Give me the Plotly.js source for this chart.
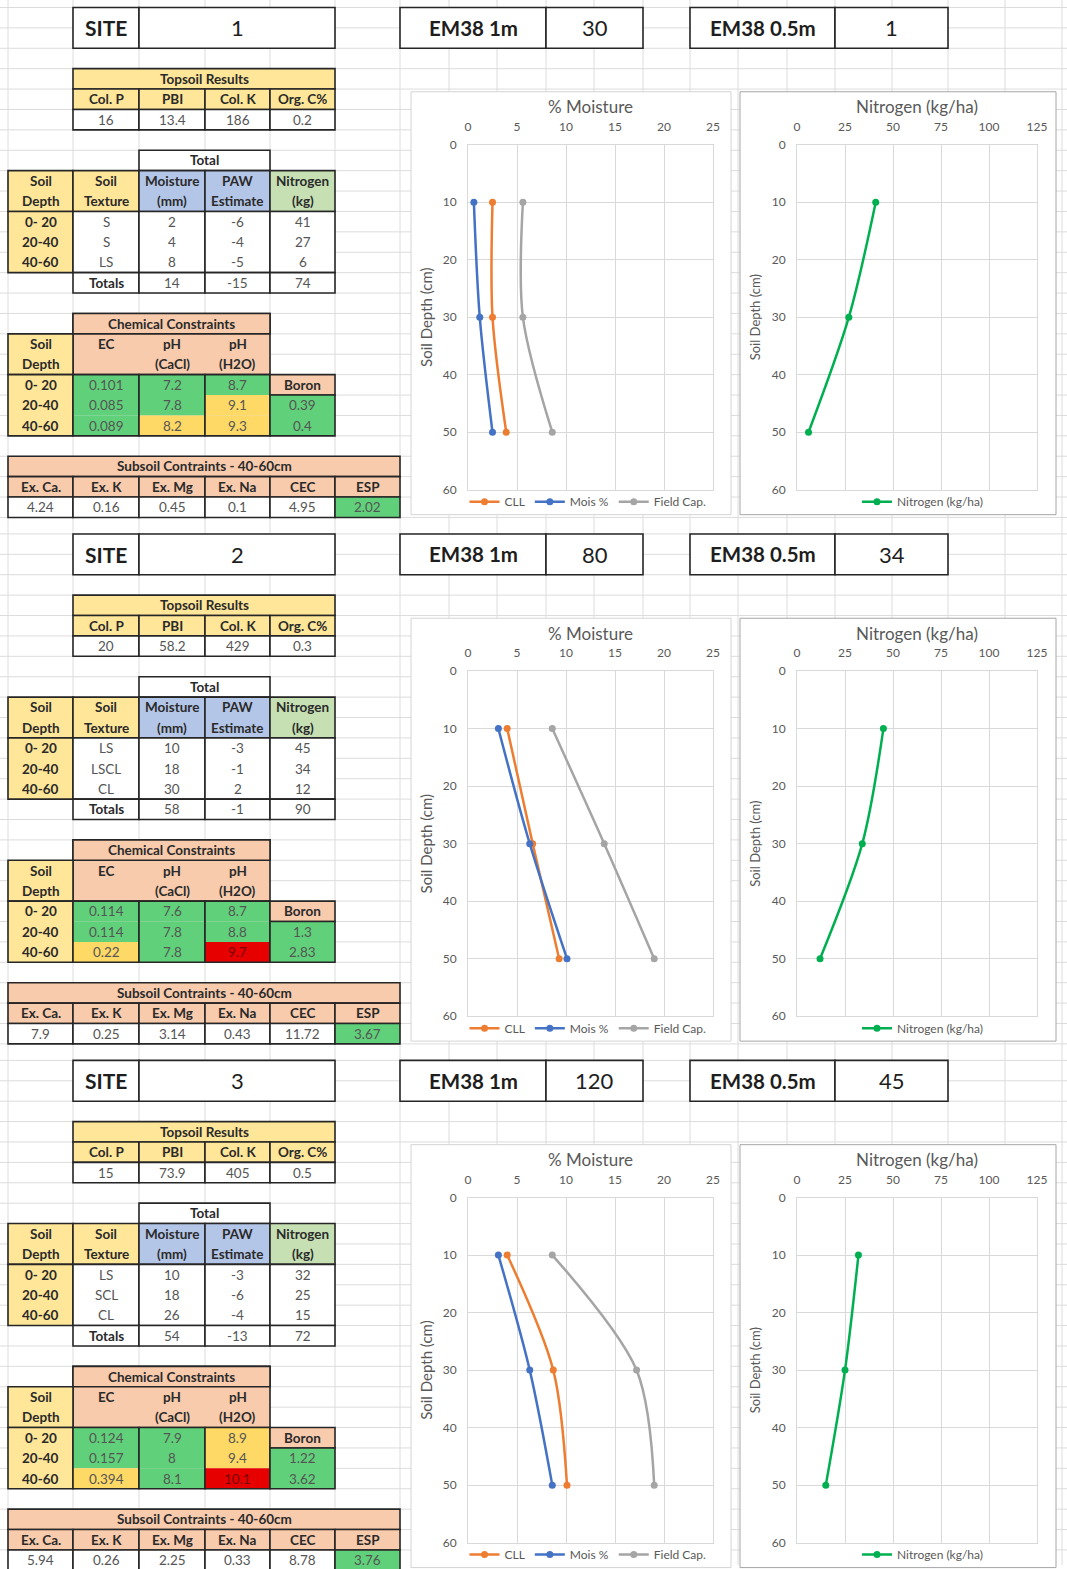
<!DOCTYPE html>
<html>
<head>
<meta charset="utf-8">
<script src="https://cdn.plot.ly/plotly-3.0.1.min.js"></script>
<style>
html,body{margin:0;padding:0;background:#ffffff;}
#chart{width:1067px;height:1569px;}
</style>
</head>
<body>
<div id="chart"></div>
<script>
// ---------------- DATA ----------------
const depths = [10, 30, 50];
const siteIds = ['1', '2', '3'];
const em38_1m = ['30', '80', '120'];
const em38_05m = ['1', '34', '45'];

// % moisture profiles (per site: values at 10, 30, 50 cm)
const cllPct = [[2.5, 2.5, 3.9], [4.0, 6.6, 9.3], [4.0, 8.7, 10.1]];
const moisPct = [[0.6, 1.2, 2.5], [3.1, 6.3, 10.1], [3.1, 6.3, 8.6]];
const fieldCapPct = [[5.6, 5.6, 8.6], [8.6, 13.9, 19.0], [8.6, 17.2, 19.0]];
// nitrogen profile (kg/ha)
const nitrogenKgHa = [[41, 27, 6], [45, 34, 12], [32, 25, 15]];

// tables
const topsoilHeaders = ['Col. P', 'PBI', 'Col. K', 'Org. C%'];
const topsoilValues = [['16', '13.4', '186', '0.2'], ['20', '58.2', '429', '0.3'], ['15', '73.9', '405', '0.5']];
const depthLabels = ['0- 20', '20-40', '40-60'];
const soilTexture = [['S', 'S', 'LS'], ['LS', 'LSCL', 'CL'], ['LS', 'SCL', 'CL']];
const moistureMm = [['2', '4', '8'], ['10', '18', '30'], ['10', '18', '26']];
const pawEstimate = [['-6', '-4', '-5'], ['-3', '-1', '2'], ['-3', '-6', '-4']];
const nitrogenKg = [['41', '27', '6'], ['45', '34', '12'], ['32', '25', '15']];
const totalsMoisture = ['14', '58', '54'];
const totalsPaw = ['-15', '-1', '-13'];
const totalsNitrogen = ['74', '90', '72'];
const ecValues = [['0.101', '0.085', '0.089'], ['0.114', '0.114', '0.22'], ['0.124', '0.157', '0.394']];
const ecStatus = [['g', 'g', 'g'], ['g', 'g', 'y'], ['g', 'g', 'y']];
const phCaCl = [['7.2', '7.8', '8.2'], ['7.6', '7.8', '7.8'], ['7.9', '8', '8.1']];
const phCaClStatus = [['g', 'g', 'y'], ['g', 'g', 'g'], ['g', 'g', 'g']];
const phH2O = [['8.7', '9.1', '9.3'], ['8.7', '8.8', '9.7'], ['8.9', '9.4', '10.1']];
const phH2OStatus = [['g', 'y', 'y'], ['g', 'g', 'r'], ['y', 'y', 'r']];
const boronValues = [['0.39', '0.4'], ['1.3', '2.83'], ['1.22', '3.62']];
const subsoilHeaders = ['Ex. Ca.', 'Ex. K', 'Ex. Mg', 'Ex. Na', 'CEC', 'ESP'];
const subsoilValues = [['4.24', '0.16', '0.45', '0.1', '4.95', '2.02'], ['7.9', '0.25', '3.14', '0.43', '11.72', '3.67'], ['5.94', '0.26', '2.25', '0.33', '8.78', '3.76']];

// ---------------- STYLE / LAYOUT ----------------
const FONT = 'Lato, "Open Sans", Arial, sans-serif';
const W = 1067, H = 1569;
const Y0 = 7.5, R = 20.45, OFF = 527.8;
const C = [8, 73, 139, 205, 270, 335, 400];
const RIGHT_COLS = [449, 497, 546, 594, 643, 690, 738, 787, 835, 892, 948, 1005, 1062];
const GRID = '#DCDCDC';
const B = '#262626', BW = 1.6;
const YELLOW = '#FFE699', BLUE = '#B4C6E7', LGREEN = '#C6E0B4', SALMON = '#F8CBAD';
const GOOD = '#60D17A', WARN = '#FFD966', BAD = '#E60000';
const WHITE = '#FFFFFF';
const DARK = '#1E1E1E', HEAD = '#2A2A2A', VAL = '#555555';
const STATUS_FILL = {g: GOOD, y: WARN, r: BAD};

const px = x => x / W;
const py = y => 1 - y / H;
const shapes = [];
const annotations = [];

function rect(x0, y0, x1, y1, fill, lc, lw) {
  shapes.push({type: 'rect', xref: 'paper', yref: 'paper', layer: 'below',
    x0: px(x0), x1: px(x1), y0: py(y1), y1: py(y0),
    fillcolor: fill || 'rgba(0,0,0,0)',
    line: {color: lc || 'rgba(0,0,0,0)', width: lw || 0}});
}
function hline(x0, x1, y, color, w) {
  shapes.push({type: 'line', xref: 'paper', yref: 'paper', layer: 'below',
    x0: px(x0), x1: px(x1), y0: py(y), y1: py(y), line: {color: color, width: w}});
}
function vline(x, y0, y1, color, w) {
  shapes.push({type: 'line', xref: 'paper', yref: 'paper', layer: 'below',
    x0: px(x), x1: px(x), y0: py(y0), y1: py(y1), line: {color: color, width: w}});
}
function txt(x, y, t, size, color, bold) {
  annotations.push({xref: 'paper', yref: 'paper', x: px(x), y: py(y), text: t,
    showarrow: false, xanchor: 'center', yanchor: 'middle',
    font: {family: FONT, size: size, color: color, weight: bold ? 'bold' : 'normal'}});
}

// spreadsheet grid
for (let s = 0; s < 3; s++) {
  for (let k = 0; k <= 25; k++) hline(0, W, Y0 + s * OFF + k * R, GRID, 1);
}
C.concat(RIGHT_COLS).forEach(x => vline(x, 0, H, GRID, 1));

const TS = 13.5;

function drawSite(s) {
  const off = s * OFF;
  const rt = k => Y0 + off + k * R;
  const mid = k => Y0 + off + (k + 0.5) * R;
  const cx = i => (C[i] + C[i + 1]) / 2;

  // chart frames
  rect(411, 92 + off, 731, 516 + off, WHITE, '#D4D4D4', 1);
  rect(740, 92 + off, 1056, 516 + off, WHITE, '#A6A6A6', 1);

  // SITE box
  rect(C[1], rt(0), C[2], rt(2), WHITE, B, BW);
  rect(C[2], rt(0), C[5], rt(2), WHITE, B, BW);
  txt(cx(1), rt(1), 'SITE', 21, DARK, true);
  txt((C[2] + C[5]) / 2, rt(1), siteIds[s], 22, DARK, false);

  // EM38 boxes
  rect(400, rt(0), 546, rt(2), WHITE, B, BW);
  rect(546, rt(0), 643, rt(2), WHITE, B, BW);
  rect(690, rt(0), 835, rt(2), WHITE, B, BW);
  rect(835, rt(0), 948, rt(2), WHITE, B, BW);
  txt(473, rt(1), 'EM38 1m', 20.5, DARK, true);
  txt(594.5, rt(1), em38_1m[s], 22, DARK, false);
  txt(762.5, rt(1), 'EM38 0.5m', 20.5, DARK, true);
  txt(891.5, rt(1), em38_05m[s], 22, DARK, false);

  // Topsoil results
  rect(C[1], rt(3), C[5], rt(4), YELLOW, B, BW);
  txt((C[1] + C[5]) / 2, mid(3), 'Topsoil Results', TS, HEAD, true);
  for (let i = 0; i < 4; i++) {
    rect(C[1 + i], rt(4), C[2 + i], rt(5), YELLOW, B, BW);
    txt(cx(1 + i), mid(4), topsoilHeaders[i], TS, HEAD, true);
    rect(C[1 + i], rt(5), C[2 + i], rt(6), WHITE, B, BW);
    txt(cx(1 + i), mid(5), topsoilValues[s][i], TS, VAL, false);
  }

  // Moisture / PAW / Nitrogen table
  rect(C[2], rt(7), C[4], rt(8), WHITE, B, BW);
  txt((C[2] + C[4]) / 2, mid(7), 'Total', TS, HEAD, true);
  const hdrFill = [YELLOW, YELLOW, BLUE, BLUE, LGREEN];
  const hdr1 = ['Soil', 'Soil', 'Moisture', 'PAW', 'Nitrogen'];
  const hdr2 = ['Depth', 'Texture', '(mm)', 'Estimate', '(kg)'];
  for (let i = 0; i < 5; i++) {
    rect(C[i], rt(8), C[i + 1], rt(10), hdrFill[i], B, BW);
    txt(cx(i), mid(8), hdr1[i], TS, HEAD, true);
    txt(cx(i), mid(9), hdr2[i], TS, HEAD, true);
    rect(C[i], rt(10), C[i + 1], rt(13), i === 0 ? YELLOW : WHITE, B, BW);
  }
  const cols = [depthLabels, soilTexture[s], moistureMm[s], pawEstimate[s], nitrogenKg[s]];
  for (let r = 0; r < 3; r++) {
    for (let i = 0; i < 5; i++) {
      txt(cx(i), mid(10 + r), cols[i][r], TS, i === 0 ? HEAD : VAL, i === 0);
    }
  }
  const totals = ['Totals', totalsMoisture[s], totalsPaw[s], totalsNitrogen[s]];
  for (let i = 1; i < 5; i++) {
    rect(C[i], rt(13), C[i + 1], rt(14), WHITE, B, BW);
    txt(cx(i), mid(13), totals[i - 1], TS, i === 1 ? HEAD : VAL, i === 1);
  }

  // Chemical constraints
  rect(C[1], rt(15), C[4], rt(18), SALMON, B, BW);
  rect(C[1], rt(15), C[4], rt(16), SALMON, B, BW);
  txt((C[1] + C[4]) / 2, mid(15), 'Chemical Constraints', TS, HEAD, true);
  rect(C[0], rt(16), C[1], rt(18), YELLOW, B, BW);
  txt(cx(0), mid(16), 'Soil', TS, HEAD, true);
  txt(cx(0), mid(17), 'Depth', TS, HEAD, true);
  txt(cx(1), mid(16), 'EC', TS, HEAD, true);
  txt(cx(2), mid(16), 'pH', TS, HEAD, true);
  txt(cx(2), mid(17), '(CaCl)', TS, HEAD, true);
  txt(cx(3), mid(16), 'pH', TS, HEAD, true);
  txt(cx(3), mid(17), '(H2O)', TS, HEAD, true);
  rect(C[0], rt(18), C[1], rt(21), YELLOW, B, BW);
  const chemVals = [ecValues[s], phCaCl[s], phH2O[s]];
  const chemStat = [ecStatus[s], phCaClStatus[s], phH2OStatus[s]];
  for (let i = 0; i < 3; i++) {
    for (let r = 0; r < 3; r++) {
      rect(C[1 + i], rt(18 + r), C[2 + i], rt(19 + r), STATUS_FILL[chemStat[i][r]]);
    }
    rect(C[1 + i], rt(18), C[2 + i], rt(21), null, B, BW);
  }
  for (let r = 0; r < 3; r++) {
    txt(cx(0), mid(18 + r), depthLabels[r], TS, HEAD, true);
    for (let i = 0; i < 3; i++) {
      const st = chemStat[i][r];
      txt(cx(1 + i), mid(18 + r), chemVals[i][r], TS, st === 'r' ? '#7A0000' : VAL, false);
    }
  }
  rect(C[4], rt(18), C[5], rt(19), SALMON, B, BW);
  txt(cx(4), mid(18), 'Boron', TS, HEAD, true);
  rect(C[4], rt(19), C[5], rt(21), GOOD, B, BW);
  txt(cx(4), mid(19), boronValues[s][0], TS, VAL, false);
  txt(cx(4), mid(20), boronValues[s][1], TS, VAL, false);

  // Subsoil constraints
  rect(C[0], rt(22), C[6], rt(23), SALMON, B, BW);
  txt((C[0] + C[6]) / 2, mid(22), 'Subsoil Contraints - 40-60cm', TS, HEAD, true);
  for (let i = 0; i < 6; i++) {
    rect(C[i], rt(23), C[i + 1], rt(24), SALMON, B, BW);
    txt(cx(i), mid(23), subsoilHeaders[i], TS, HEAD, true);
    rect(C[i], rt(24), C[i + 1], rt(25), i === 5 ? GOOD : WHITE, B, BW);
    txt(cx(i), mid(24), subsoilValues[s][i], TS, VAL, false);
  }
}
for (let s = 0; s < 3; s++) drawSite(s);

// ---------------- CHARTS ----------------
const TICKFONT = {family: FONT, size: 12, color: '#595959'};
const traces = [];
const layout = {
  width: W, height: H, autosize: false,
  margin: {l: 0, r: 0, t: 0, b: 0, pad: 0},
  paper_bgcolor: '#FFFFFF', plot_bgcolor: '#FFFFFF',
  font: {family: FONT, color: '#595959'},
  showlegend: true,
  shapes: shapes, annotations: annotations
};
const axId = n => (n === 1 ? '' : String(n));

function lineTrace(x, name, color, n, legendId) {
  return {type: 'scatter', mode: 'lines+markers', x: x, y: depths, name: name,
    xaxis: 'x' + axId(n), yaxis: 'y' + axId(n), legend: legendId,
    line: {color: color, width: 2.5, shape: 'spline', smoothing: 0.9},
    marker: {color: color, size: 7, symbol: 'circle'}, hoverinfo: 'skip'};
}

for (let s = 0; s < 3; s++) {
  const off = s * OFF;
  const mi = 2 * s + 1, ni = 2 * s + 2;
  const legM = 'legend' + axId(mi), legN = 'legend' + axId(ni);
  const yDom = [py(491 + off), py(145 + off)];
  const baseX = {side: 'top', showgrid: true, gridcolor: '#D9D9D9', gridwidth: 1,
    zeroline: false, showline: true, mirror: true, linecolor: '#D9D9D9', linewidth: 1,
    ticks: '', tickfont: TICKFONT, fixedrange: true, ticklabelstandoff: 8};
  const baseY = {range: [60, 0], tick0: 0, dtick: 10, showgrid: true, gridcolor: '#D9D9D9',
    gridwidth: 1, zeroline: false, showline: true, mirror: true, linecolor: '#D9D9D9',
    linewidth: 1, ticks: '', tickfont: TICKFONT, fixedrange: true, ticklabelstandoff: 8};

  layout['xaxis' + axId(mi)] = Object.assign({}, baseX, {
    domain: [px(468), px(713)], anchor: 'y' + axId(mi), range: [0, 25], tick0: 0, dtick: 5,
    title: {text: '% Moisture', font: {family: FONT, size: 17, color: '#595959'}, standoff: 0}});
  layout['yaxis' + axId(mi)] = Object.assign({}, baseY, {
    domain: yDom, anchor: 'x' + axId(mi),
    title: {text: 'Soil Depth (cm)', font: {family: FONT, size: 15, color: '#595959'}, standoff: 6}});
  layout['xaxis' + axId(ni)] = Object.assign({}, baseX, {
    domain: [px(797), px(1037)], anchor: 'y' + axId(ni), range: [0, 125], tick0: 0, dtick: 25,
    title: {text: 'Nitrogen (kg/ha)', font: {family: FONT, size: 17, color: '#595959'}, standoff: 0}});
  layout['yaxis' + axId(ni)] = Object.assign({}, baseY, {
    domain: yDom, anchor: 'x' + axId(ni),
    title: {text: 'Soil Depth (cm)', font: {family: FONT, size: 13, color: '#595959'}, standoff: 8}});

  const legBase = {orientation: 'h', xanchor: 'center', yanchor: 'middle',
    font: {family: FONT, size: 12, color: '#595959'}, bgcolor: 'rgba(0,0,0,0)',
    itemwidth: 30, itemclick: false, itemdoubleclick: false, tracegroupgap: 0};
  layout[legM] = Object.assign({}, legBase, {x: px(588), y: py(503 + off)});
  layout[legN] = Object.assign({}, legBase, {x: px(923), y: py(503 + off)});

  traces.push(lineTrace(cllPct[s], 'CLL', '#ED7D31', mi, legM));
  traces.push(lineTrace(moisPct[s], 'Mois %', '#4472C4', mi, legM));
  traces.push(lineTrace(fieldCapPct[s], 'Field Cap.', '#A5A5A5', mi, legM));
  traces.push(lineTrace(nitrogenKgHa[s], 'Nitrogen (kg/ha)', '#00B050', ni, legN));
}

Plotly.newPlot('chart', traces, layout, {displayModeBar: false, staticPlot: true});
</script>
</body>
</html>
